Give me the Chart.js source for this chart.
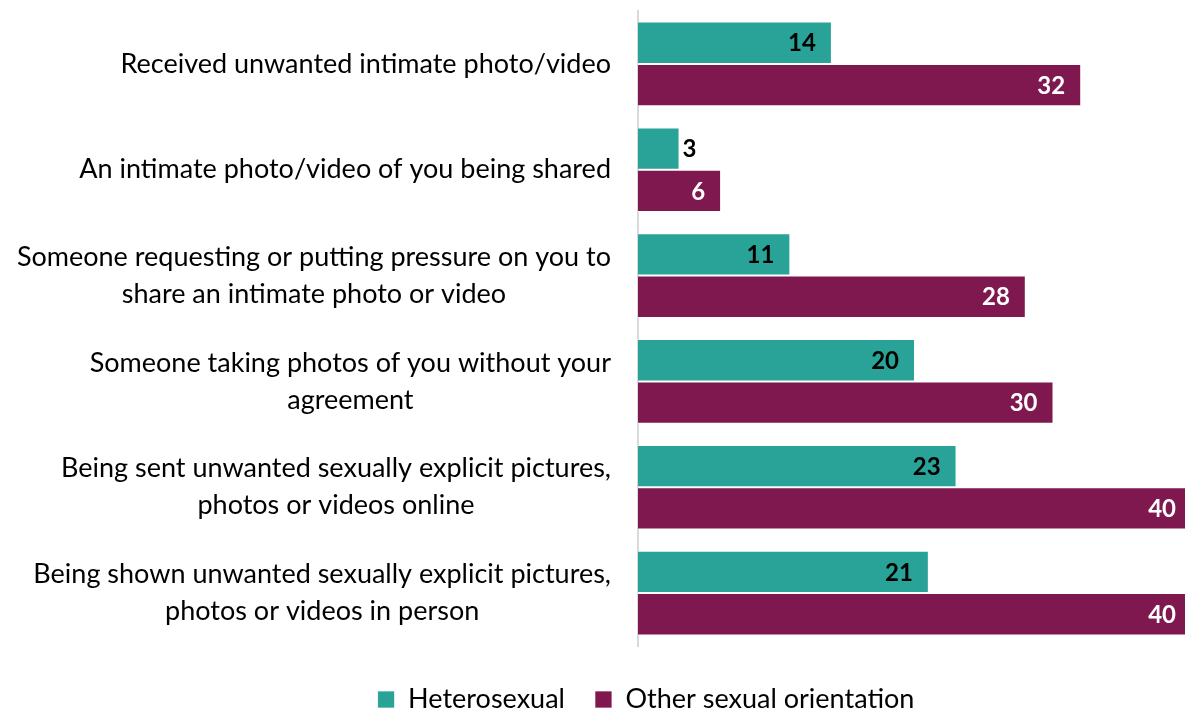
<!DOCTYPE html>
<html>
<head>
<meta charset="utf-8">
<script src="https://cdn.jsdelivr.net/npm/chart.js"></script>
<style>
  html, body { margin: 0; padding: 0; background: #fff; overflow: hidden; }
  #wrap { width: 1192px; height: 711px; }
</style>
</head>
<body>
<div id="wrap"><canvas id="chart"></canvas></div>
<script>
// categories, top to bottom
const categories = [
  "Received unwanted intimate photo/video",
  "An intimate photo/video of you being shared",
  ["Someone requesting or putting pressure on you to", "share an intimate photo or video"],
  ["Someone taking photos of you without your", "agreement"],
  ["Being sent unwanted sexually explicit pictures,", "photos or videos online"],
  ["Being shown unwanted sexually explicit pictures,", "photos or videos in person"]
];

// percentages
const heterosexual = [14, 3, 11, 20, 23, 21];
const otherOrientation = [32, 6, 28, 30, 40, 40];

const tealColor = "#29A398";
const plumColor = "#7E184E";
const fontFamily = "Lato, 'Open Sans', sans-serif";

// category labels: each block right-aligned to the axis, lines centred within the block
const categoryLabels = {
  id: "categoryLabels",
  afterDraw(chart) {
    const ctx = chart.ctx;
    const yScale = chart.scales.y;
    const right = yScale.right - 27;
    const lineH = 37;
    ctx.save();
    ctx.font = "27px " + fontFamily;
    ctx.fillStyle = "#000";
    ctx.textAlign = "center";
    ctx.textBaseline = "middle";
    categories.forEach((lab, i) => {
      const lines = Array.isArray(lab) ? lab : [lab];
      const blockW = Math.max(...lines.map(l => ctx.measureText(l).width));
      const cx = right - blockW / 2;
      const cy = yScale.getPixelForTick(i);
      lines.forEach((l, k) => {
        ctx.fillText(l, cx, cy + (k - (lines.length - 1) / 2) * lineH);
      });
    });
    ctx.restore();
  }
};

// value labels: inside the bar end if it fits, otherwise just past it
const valueLabels = {
  id: "valueLabels",
  afterDatasetsDraw(chart) {
    const ctx = chart.ctx;
    ctx.save();
    ctx.font = "bold 24px " + fontFamily;
    ctx.textBaseline = "middle";
    chart.data.datasets.forEach((ds, i) => {
      const meta = chart.getDatasetMeta(i);
      meta.data.forEach((bar, j) => {
        const txt = String(ds.data[j]);
        const w = ctx.measureText(txt).width;
        const barLen = bar.x - bar.base;
        if (barLen > w + 34) {
          ctx.textAlign = "right";
          ctx.fillStyle = i === 0 ? "#000" : "#fff";
          ctx.fillText(txt, bar.x - 16, bar.y + 1);
        } else {
          ctx.textAlign = "left";
          ctx.fillStyle = "#000";
          ctx.fillText(txt, bar.x + 3, bar.y + 1);
        }
      });
    });
    ctx.restore();
  }
};

new Chart(document.getElementById("chart"), {
  type: "bar",
  data: {
    labels: categories,
    datasets: [
      {
        label: "Heterosexual",
        data: heterosexual,
        backgroundColor: tealColor,
        borderColor: "rgba(255,255,255,0.7)",
        borderWidth: 1,
        barPercentage: 1,
        categoryPercentage: 0.8
      },
      {
        label: "Other sexual orientation",
        data: otherOrientation,
        backgroundColor: plumColor,
        borderColor: "rgba(255,255,255,0.7)",
        borderWidth: 1,
        barPercentage: 1,
        categoryPercentage: 0.8
      }
    ]
  },
  options: {
    indexAxis: "y",
    responsive: true,
    maintainAspectRatio: false,
    animation: false,
    layout: { padding: { top: 11, left: 100, right: 0, bottom: 0 } },
    scales: {
      x: {
        display: false,
        min: 0,
        max: 40
      },
      y: {
        afterFit(scale) {
          scale.width = 538;
          scale.paddingTop = 0;
          scale.paddingBottom = 0;
        },
        grid: { display: false, drawTicks: false },
        border: { display: true, color: "#d9d9d9", width: 2 },
        ticks: { display: false }
      }
    },
    plugins: {
      legend: {
        position: "bottom",
        maxHeight: 65,
        title: {
          display: true,
          text: "",
          font: { size: 1, lineHeight: 1 },
          padding: { top: 9, bottom: 0 }
        },
        labels: {
          boxWidth: 17,
          boxHeight: 17,
          padding: 30,
          color: "#000",
          font: { family: fontFamily, size: 27 }
        }
      },
      tooltip: { enabled: false }
    }
  },
  plugins: [valueLabels, categoryLabels]
});
</script>
</body>
</html>
